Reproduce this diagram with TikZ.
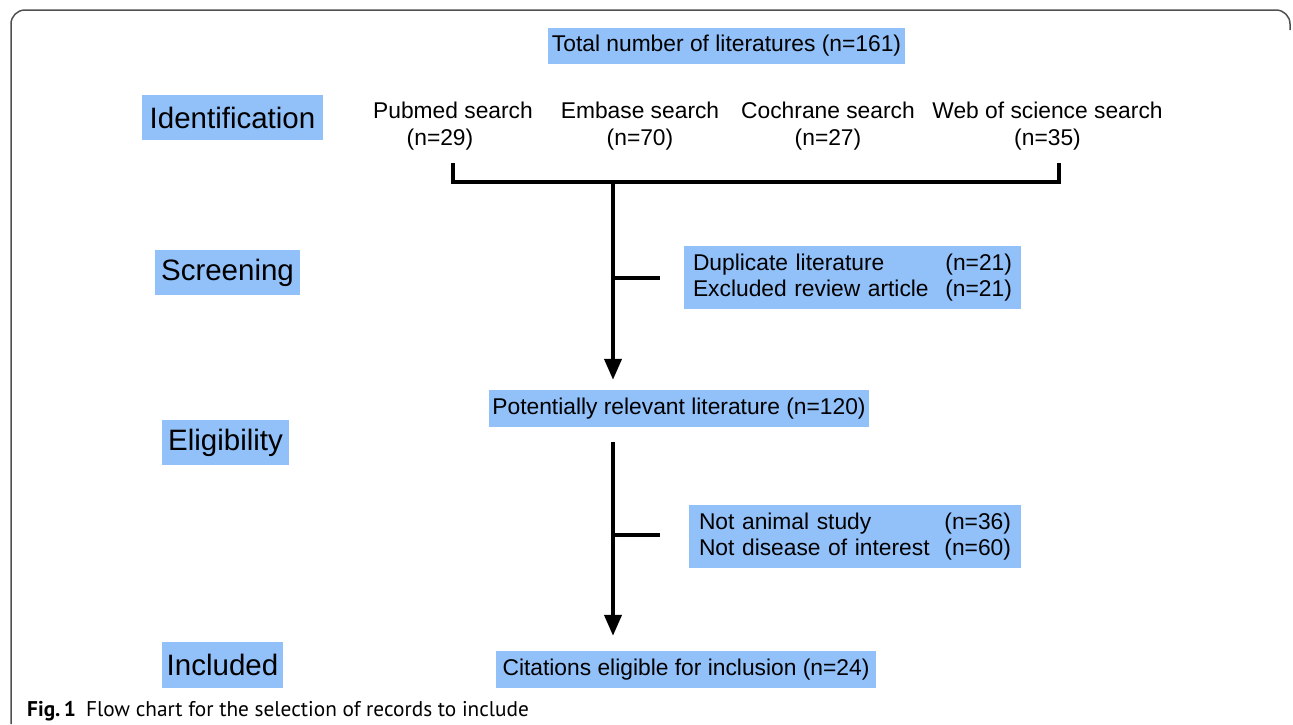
\documentclass[tikz,border=0pt]{standalone}
\usepackage{fontspec}
\setmainfont{Liberation Sans}
\newfontfamily\capfont{PT Sans}
\usetikzlibrary{arrows.meta}
\definecolor{boxblue}{RGB}{146,192,249}
\definecolor{framegray}{RGB}{80,80,80}
\tikzset{
  box/.style={fill=boxblue, inner sep=0pt, font=\fontsize{22.8}{26}\selectfont},
  stage/.style={fill=boxblue, inner sep=0pt, font=\fontsize{29.5}{34}\selectfont},
  lbl/.style={inner sep=0pt, align=center, font=\fontsize{22.8}{27}\selectfont},
  conn/.style={line width=4pt},
  arr/.style={line width=4pt, -{Triangle[width=17pt,length=21pt]}},
}
\begin{document}
\begin{tikzpicture}[x=1pt,y=-1pt]
\useasboundingbox (0,0) rectangle (1293,724);
% frame
\draw[framegray, line width=1.5pt, rounded corners=14pt] (11,724) -- (11,10) -- (1290,10) -- (1290,30);
% stage labels
\node[stage, minimum width=181pt, minimum height=45pt] (ident) at (232.5,117.5) {Identification};
\node[stage, minimum width=145pt, minimum height=45pt] (screen) at (227.5,272.5) {Screening};
\node[stage, minimum width=127pt, minimum height=45pt] (elig) at (225.5,442.5) {Eligibility};
\node[stage, minimum width=121pt, minimum height=46pt] (incl) at (222.5,665) {Included};
% main boxes
\node[box, minimum width=357pt, minimum height=36pt] (total) at (726.5,46) {Total number of literatures (n=161)};
\node[lbl] (pubmed) at (453,126) {Pubmed search\\(n=29)\hspace*{26pt}};
\node[lbl] (embase) at (640,126) {Embase search\\(n=70)};
\node[lbl] (cochrane) at (828,126) {Cochrane search\\(n=27)};
\node[lbl] (wos) at (1047.5,126) {Web of science search\\(n=35)};
\node[box, minimum width=337pt, minimum height=63pt, text width=319pt, align=left] (dup) at (852.5,277.5)
  {Duplicate literature\hfill(n=21)\\Excluded review article\hfill(n=21)};
\node[box, minimum width=380pt, minimum height=37pt] (pot) at (679,408.5) {Potentially relevant literature (n=120)};
\node[box, minimum width=332pt, minimum height=63pt, text width=312pt, align=left] (excl) at (855,536.5)
  {Not animal study\hfill(n=36)\\Not disease of interest\hfill(n=60)};
\node[box, minimum width=380pt, minimum height=37pt] (cit) at (686,669.5) {Citations eligible for inclusion (n=24)};
% connectors
\coordinate (bl) at (453,182);
\coordinate (br) at (1059,182);
\coordinate (j1) at (613,182);
\coordinate (b1) at (613,278);
\coordinate (j2) at (613,442);
\coordinate (b2) at (613,535);
\draw[conn, line join=miter] (bl |- 0,163) -- (bl) -- (br) -- (br |- 0,163);
\draw[arr] (j1) -- (j1 |- pot.north) [shorten >=10pt];
\draw[conn] (b1) -- (b1 -| dup.west) [shorten >=24pt];
\draw[arr] (j1 |- pot.south) ++(0,15) coordinate (s2) -- (s2 |- cit.north) [shorten >=15pt];
\draw[conn] (b2) -- (b2 -| excl.west) [shorten >=29pt];
% caption
\node[anchor=base west, inner sep=0pt, font=\capfont\fontsize{21.3}{24}\selectfont] (cap) at (27,716)
  {\textbf{Fig.\,1}\hspace{10pt}Flow chart for the selection of records to include};
\end{tikzpicture}
\end{document}
